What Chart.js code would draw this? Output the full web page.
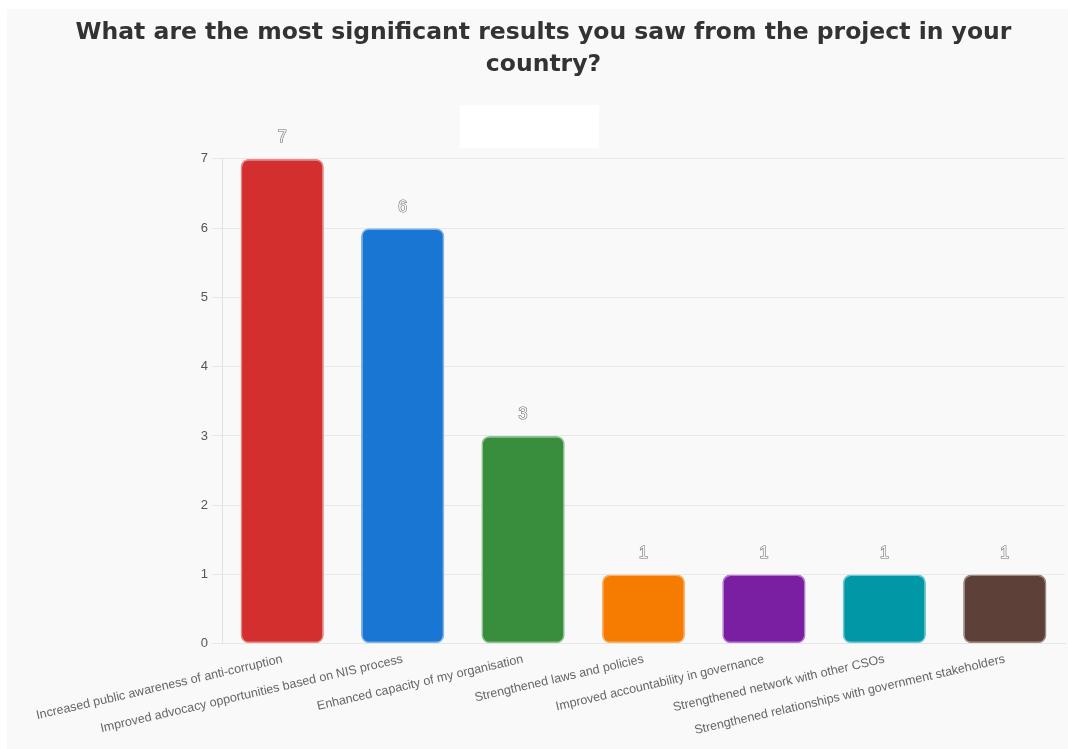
<!DOCTYPE html>
<html>
<head>
<meta charset="utf-8">
<script src="https://cdn.jsdelivr.net/npm/chart.js@4/dist/chart.umd.min.js"></script>
<style>
  html, body { margin: 0; padding: 0; background: #fff; overflow: hidden; }
  #wrap { position: absolute; left: 7px; top: 9px; width: 1073px; height: 740px; background: #f9f9f9; }
</style>
</head>
<body>
<div id="wrap"><canvas id="myChart"></canvas></div>
<script>
var categories = [
  'Increased public awareness of anti-corruption',
  'Improved advocacy opportunities based on NIS process',
  'Enhanced capacity of my organisation',
  'Strengthened laws and policies',
  'Improved accountability in governance',
  'Strengthened network with other CSOs',
  'Strengthened relationships with government stakeholders'
];
var responses = [7, 6, 3, 1, 1, 1, 1];
var yTicks = [0, 1, 2, 3, 4, 5, 6, 7];
var barColors = ['#d32f2f', '#1976d2', '#388e3c', '#f57c00', '#7b1fa2', '#0097a7', '#5d4037'];
var edgeColors = ['#e88a8a', '#7fb5ea', '#8cc38f', '#f9b36b', '#b47bd0', '#6fcad5', '#a08a80'];

// outlined count above every bar
var valueLabels = {
  id: 'valueLabels',
  afterDatasetsDraw: function(chart) {
    var ctx = chart.ctx;
    var meta = chart.getDatasetMeta(0);
    ctx.save();
    ctx.font = '16px "Liberation Sans", Arial, sans-serif';
    ctx.textAlign = 'center';
    ctx.textBaseline = 'middle';
    ctx.lineWidth = 1.2;
    ctx.strokeStyle = '#6e6e6e';
    ctx.fillStyle = '#fbfbfb';
    meta.data.forEach(function(bar, i) {
      var txt = String(chart.data.datasets[0].data[i]);
      ctx.strokeText(txt, bar.x, bar.y - 21);
      ctx.fillText(txt, bar.x, bar.y - 21);
    });
    ctx.restore();
  }
};

// blank panel over the legend area
var legendMask = {
  id: 'legendMask',
  afterDraw: function(chart) {
    var ctx = chart.ctx;
    ctx.save();
    ctx.fillStyle = '#ffffff';
    ctx.fillRect(453, 96, 139, 43);
    ctx.restore();
  }
};

var ctx = document.getElementById('myChart').getContext('2d');
var chart = new Chart(ctx, {
  type: 'bar',
  data: {
    labels: categories,
    datasets: [{
      label: 'Responses',
      data: responses,
      backgroundColor: barColors,
      borderColor: edgeColors,
      borderWidth: 1.5,
      borderRadius: 8,
      borderSkipped: false,
      categoryPercentage: 0.8,
      barPercentage: 0.865
    }]
  },
  options: {
    responsive: true,
    maintainAspectRatio: false,
    animation: false,
    layout: { padding: { left: 15, right: 15, top: 0, bottom: 3 } },
    plugins: {
      legend: { display: false },
      tooltip: { enabled: false },
      title: {
        display: true,
        text: ['What are the most significant results you saw from the project in your', 'country?'],
        color: '#333333',
        font: { family: '"DejaVu Sans", Verdana, sans-serif', size: 23.5, weight: 'bold', lineHeight: 1.36 },
        padding: { top: 8, bottom: 78 }
      }
    },
    scales: {
      x: {
        grid: { display: false, drawTicks: false },
        border: { color: '#e6e6e6' },
        ticks: {
          color: '#666666',
          font: { family: '"Liberation Sans", Arial, sans-serif', size: 12.5 },
          minRotation: 13,
          maxRotation: 13,
          autoSkip: false,
          padding: 8
        }
      },
      y: {
        min: 0,
        max: 7,
        afterFit: function(scale) { scale.width = 200; },
        afterBuildTicks: function(scale) {
          scale.ticks = yTicks.map(function(v) { return { value: v }; });
        },
        grid: { color: '#e8e8e8', tickLength: 10 },
        border: { color: '#e2e2e2' },
        ticks: {
          color: '#555555',
          font: { family: '"Liberation Sans", Arial, sans-serif', size: 13 },
          padding: 4
        }
      }
    }
  },
  plugins: [valueLabels, legendMask]
});
</script>
</body>
</html>
